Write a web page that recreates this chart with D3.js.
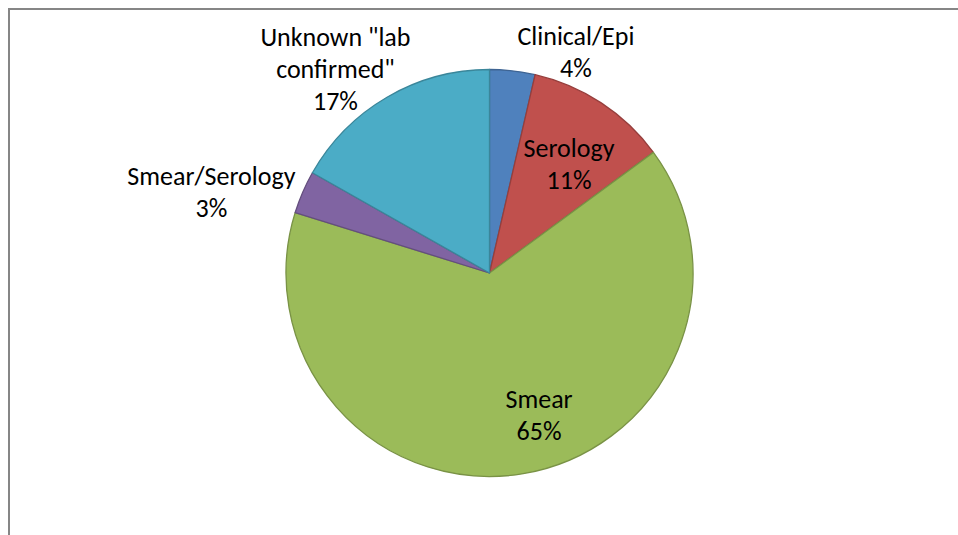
<!DOCTYPE html>
<html>
<head>
<meta charset="utf-8">
<script src="https://cdn.jsdelivr.net/npm/d3@7"></script>
<style>
  html, body { margin: 0; padding: 0; background: #fff; }
  svg { display: block; }
  .lbl { font-family: Carlito, Calibri, Lato, "Open Sans", sans-serif; font-size: 26px; fill: #000; }
</style>
</head>
<body>
<svg id="chart" width="958" height="535"></svg>
<script>
/* ---------- Data ---------- */
const categories = ["Clinical/Epi", "Serology", "Smear", "Smear/Serology", "Unknown \"lab confirmed\""];
const shares     = [3.6, 11.3, 64.9, 3.4, 16.8];
const colors     = ["#4F81BD", "#C0504D", "#9BBB59", "#8064A2", "#4BACC6"];
// label text broken into lines like the original
const labelLines = [["Clinical/Epi"], ["Serology"], ["Smear"], ["Smear/Serology"], ["Unknown \"lab", "confirmed\""]];

// label placement in polar terms: angle (deg, clockwise from top), distance as fraction of radius
const labelAngle = [21.4, 36.2, 160.7, 286.3, 323.0];
const labelDist  = [1.164, 0.662, 0.737, 1.424, 1.258];

/* ---------- Layout ---------- */
const W = 958, H = 535;
const cx = 489.5, cy = 273, R = 203.5;
const lineH = 32;

const svg = d3.select("#chart");

// chart frame (only top/left edges fall inside the picture)
svg.append("rect")
  .attr("x", 9).attr("y", 9)
  .attr("width", W + 20).attr("height", H + 20)
  .attr("fill", "#fff")
  .attr("stroke", "#868686")
  .attr("stroke-width", 2);

const data = categories.map((c, i) => ({ name: c, value: shares[i], i }));
const total = d3.sum(shares);
const fmtPct = v => Math.round(v / total * 100) + "%";

const pie = d3.pie().value(d => d.value).sort(null);
const arc = d3.arc().innerRadius(0).outerRadius(R);

const g = svg.append("g").attr("transform", `translate(${cx},${cy})`);

g.selectAll("path.slice")
  .data(pie(data))
  .join("path")
  .attr("class", "slice")
  .attr("d", arc)
  .attr("fill", d => colors[d.data.i])
  .attr("stroke", d => d3.color(colors[d.data.i]).darker(0.7))
  .attr("stroke-width", 1.3)
  .attr("stroke-linejoin", "round");

/* ---------- Labels ---------- */
const labels = g.selectAll("text.lbl")
  .data(data)
  .join("text")
  .attr("class", "lbl")
  .attr("text-anchor", "middle");

labels.each(function(d){
  const a = labelAngle[d.i] * Math.PI / 180;
  const r = labelDist[d.i] * R;
  const x = r * Math.sin(a);
  const y = -r * Math.cos(a);
  const lines = labelLines[d.i].concat([fmtPct(d.value)]);
  const first = y - (lines.length - 1) * lineH / 2 + 9;
  const t = d3.select(this);
  lines.forEach((ln, k) => {
    t.append("tspan").attr("x", x).attr("y", first + k * lineH).text(ln);
  });
});
</script>
</body>
</html>
